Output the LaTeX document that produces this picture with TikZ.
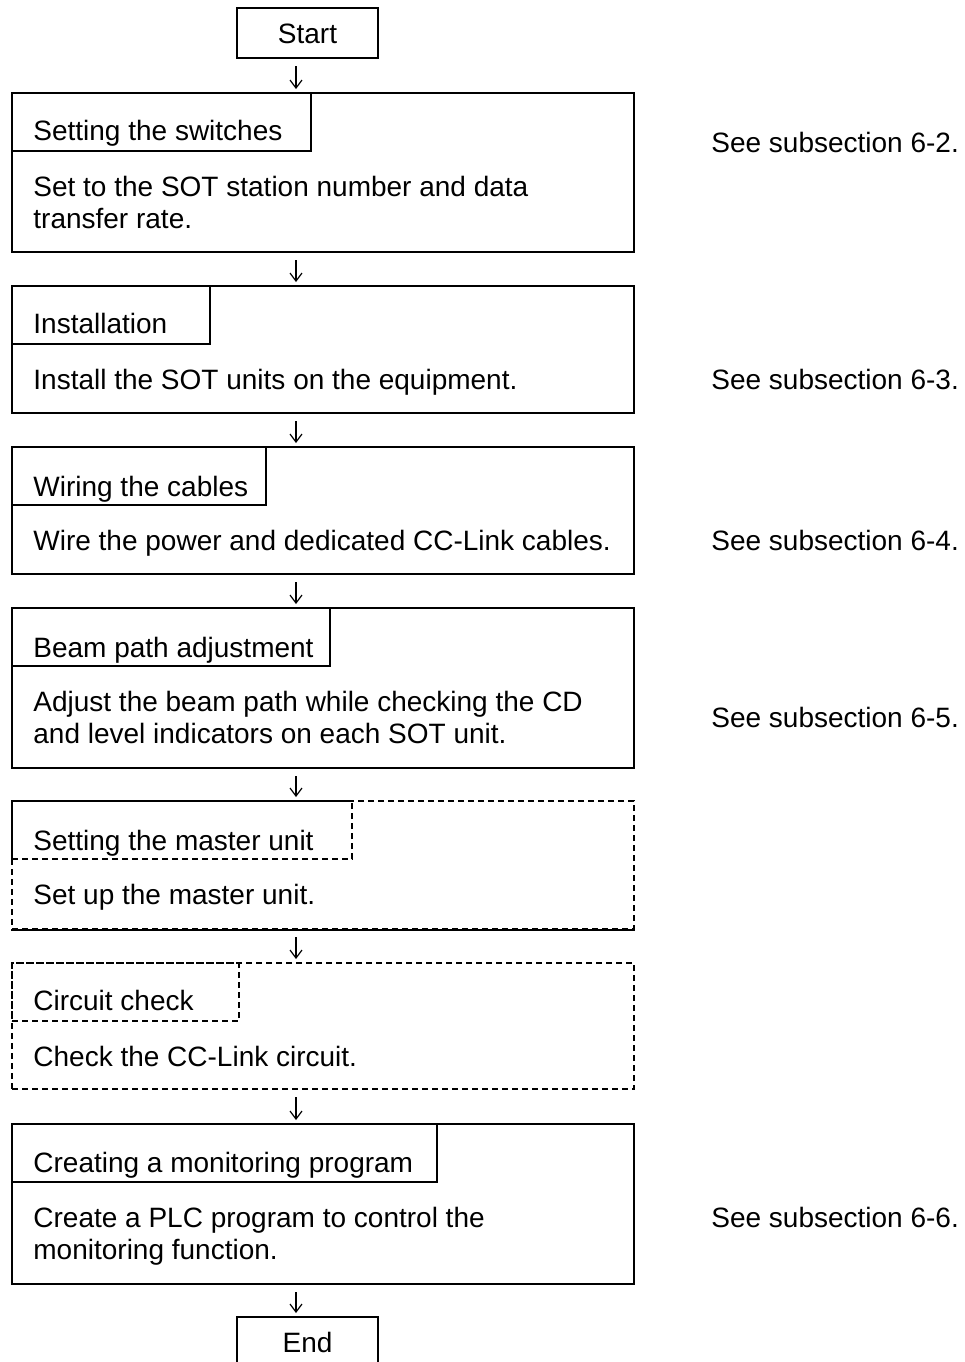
\documentclass[tikz,border=0pt]{standalone}
\usepackage{fontspec}
\setmainfont{Liberation Sans}
\usetikzlibrary{arrows.meta}
\tikzset{
  stepbox/.style={draw, line width=1pt, rectangle, anchor=north west, inner sep=0pt},
  endbox/.style={draw, line width=1pt, rectangle, inner sep=0pt, minimum width=70.5pt, minimum height=25pt, text height=10pt, text depth=0pt},
  dotbox/.style={dash pattern=on 3pt off 2pt},
  txt/.style={anchor=base west, inner sep=0pt},
  arr/.style={-{Straight Barb[length=4pt,width=6pt]}, line width=0.6pt, shorten <=3.5pt, shorten >=1.5pt}
}
\begin{document}
\begin{tikzpicture}[x=0.5pt,y=-0.5pt,font=\fontsize{14}{16}\selectfont]
\useasboundingbox (0,0) rectangle (965,1362);
\coordinate (ax) at (296,0);

\node[endbox] (start) at (307.5,33) {Start};

% steps
\node[stepbox, minimum width=311pt, minimum height=79.5pt] (b1) at (11,92) {};
\node[stepbox, minimum width=149.5pt, minimum height=29pt] (t1) at (11,92) {};
\node[txt] (n1) at (33,140) {Setting the switches};
\node[txt] (m1a) at (33,196) {Set to the SOT station number and data};
\node[txt] (m1b) at (33,228) {transfer rate.};

\node[stepbox, minimum width=311pt, minimum height=63.5pt] (b2) at (11,285) {};
\node[stepbox, minimum width=99pt, minimum height=29pt] (t2) at (11,285) {};
\node[txt] (n2) at (33,333) {Installation};
\node[txt] (m2) at (33,389) {Install the SOT units on the equipment.};

\node[stepbox, minimum width=311pt, minimum height=63.5pt] (b3) at (11,446) {};
\node[stepbox, minimum width=127pt, minimum height=29pt] (t3) at (11,446) {};
\node[txt] (n3) at (33,496) {Wiring the cables};
\node[txt] (m3) at (33,550) {Wire the power and dedicated CC-Link cables.};

\node[stepbox, minimum width=311pt, minimum height=80pt] (b4) at (11,607) {};
\node[stepbox, minimum width=159pt, minimum height=29pt] (t4) at (11,607) {};
\node[txt] (n4) at (33,657) {Beam path adjustment};
\node[txt] (m4a) at (33,711) {Adjust the beam path while checking the CD};
\node[txt] (m4b) at (33,743) {and level indicators on each SOT unit.};

\node[stepbox, dotbox, minimum width=311pt, minimum height=64pt] (b5) at (11,800) {};
\node[stepbox, dotbox, minimum width=170pt, minimum height=29pt] (t5) at (11,800) {};
\draw[line width=1pt] (b5.south west) -- (b5.south east);
\node[txt] (n5) at (33,850) {Setting the master unit};
\node[txt] (m5) at (33,904) {Set up the master unit.};

\node[stepbox, dotbox, minimum width=311pt, minimum height=63pt] (b6) at (11,962) {};
\node[stepbox, dotbox, minimum width=113.5pt, minimum height=29pt] (t6) at (11,962) {};
\node[txt] (n6) at (33,1010) {Circuit check};
\node[txt] (m6) at (33,1066) {Check the CC-Link circuit.};

\node[stepbox, minimum width=311pt, minimum height=80pt] (b7) at (11,1123) {};
\node[stepbox, minimum width=212.5pt, minimum height=29pt] (t7) at (11,1123) {};
\node[txt] (n7) at (33,1172) {Creating a monitoring program};
\node[txt] (m7a) at (33,1227) {Create a PLC program to control the};
\node[txt] (m7b) at (33,1259) {monitoring function.};

\node[endbox] (end) at (307.5,1342) {End};

% references
\node[txt] (r1) at (711,152) {See subsection 6-2.};
\node[txt] (r2) at (711,389) {See subsection 6-3.};
\node[txt] (r3) at (711,550) {See subsection 6-4.};
\node[txt] (r4) at (711,727) {See subsection 6-5.};
\node[txt] (r7) at (711,1227) {See subsection 6-6.};

\draw[arr] (start.south -| ax) -- (b1.north -| ax);
\draw[arr] (b1.south -| ax) -- (b2.north -| ax);
\draw[arr] (b2.south -| ax) -- (b3.north -| ax);
\draw[arr] (b3.south -| ax) -- (b4.north -| ax);
\draw[arr] (b4.south -| ax) -- (b5.north -| ax);
\draw[arr] (b5.south -| ax) -- (b6.north -| ax);
\draw[arr] (b6.south -| ax) -- (b7.north -| ax);
\draw[arr] (b7.south -| ax) -- (end.north -| ax);
\end{tikzpicture}
\end{document}
